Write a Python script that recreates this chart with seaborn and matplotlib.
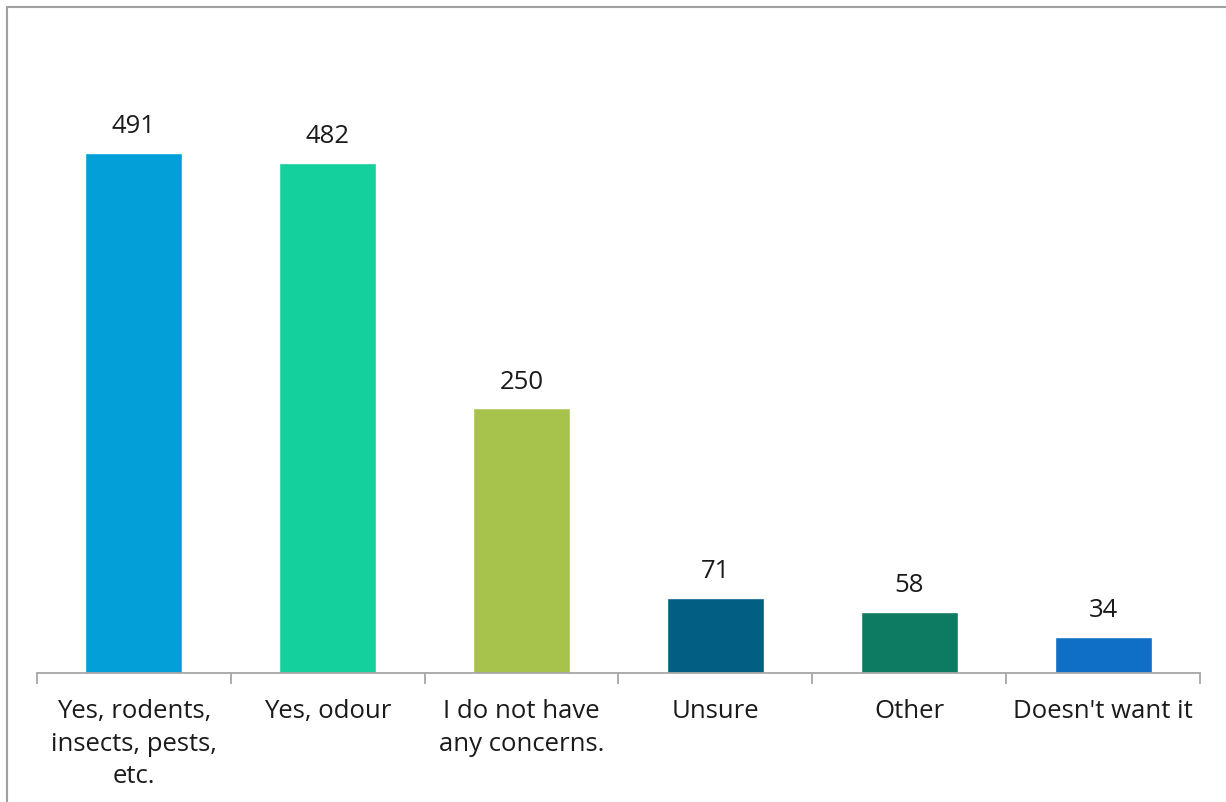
import matplotlib
matplotlib.use('Agg')
import matplotlib.pyplot as plt
import seaborn as sns
import pandas as pd
from matplotlib.patches import Rectangle
from matplotlib.ticker import FixedLocator

categories = ['Yes, rodents,\ninsects, pests,\netc.', 'Yes, odour',
              'I do not have\nany concerns.', 'Unsure', 'Other', "Doesn't want it"]
counts = [491, 482, 250, 71, 58, 34]
colors = ['#029FD9', '#13D09C', '#A8C34C', '#005F83', '#0D7B62', '#0F6FC6']

sns.set_style('white')
plt.rcParams['font.family'] = ['Open Sans', 'DejaVu Sans']

df = pd.DataFrame({'category': categories, 'count': counts})

fig = plt.figure(figsize=(12.26, 8.02), dpi=100)
ax = fig.add_axes([37/1226, 129/802, 1163/1226, 635/802])

sns.barplot(data=df, x='category', y='count', hue='category', palette=colors,
            legend=False, width=0.5, saturation=1, ax=ax)

for c in ax.containers:
    ax.bar_label(c, padding=10, fontsize=18.5, color='#1a1a1a')

ax.set_xlim(-0.5, len(categories) - 0.5)
ax.set_ylim(0, 600)
ax.set_xlabel('')
ax.set_ylabel('')
ax.set_yticks([])
for s in ['top', 'right', 'left']:
    ax.spines[s].set_visible(False)
ax.spines['bottom'].set_color('#A6A6A6')
ax.spines['bottom'].set_linewidth(1.3)

ax.xaxis.set_minor_locator(FixedLocator([i - 0.5 for i in range(len(categories) + 1)]))
ax.tick_params(axis='x', which='major', bottom=False, length=0, pad=19,
               labelsize=18.5, labelcolor='#1a1a1a')
ax.tick_params(axis='x', which='minor', bottom=True, length=8, width=1.3,
               color='#A6A6A6', direction='out')
for lbl in ax.get_xticklabels():
    lbl.set_verticalalignment('top')
    lbl.set_linespacing(1.38)

# outer frame of the chart area
fig.patches.append(Rectangle((7/1226, -0.05), 1.2, 1 - 7/802 + 0.05, transform=fig.transFigure,
                             fill=False, edgecolor='#A0A0A0', linewidth=1.5))

fig.savefig('out.png', dpi=100)
